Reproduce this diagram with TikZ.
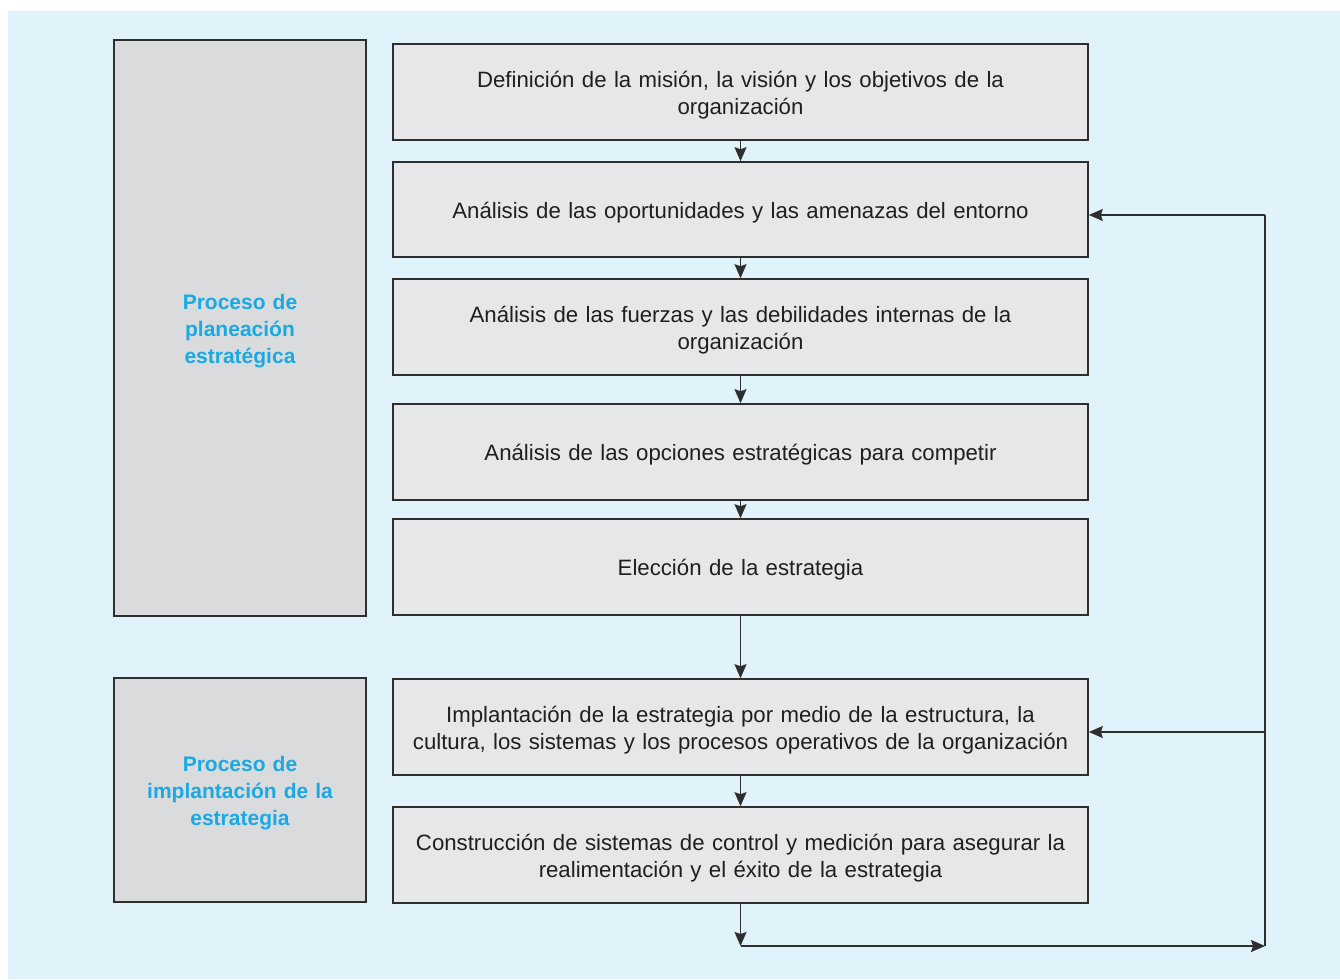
\documentclass[tikz,border=0pt]{standalone}
\usepackage{fontspec}
\setmainfont{Liberation Sans}
\usetikzlibrary{arrows.meta}
\definecolor{bgblue}{HTML}{E0F3FA}
\definecolor{leftgray}{HTML}{DADBDD}
\definecolor{boxgray}{HTML}{E6E7E8}
\definecolor{edge}{HTML}{2E2E2E}
\definecolor{labelblue}{HTML}{1AA9E3}
\tikzset{
  stepbox/.style={draw=edge, line width=1.6pt, fill=boxgray, minimum width=695pt, inner sep=0pt},
  steptext/.style={inner sep=0pt, yshift=-3pt, align=center, text width=685pt,
    font=\fontsize{22.2}{26.5}\selectfont, text=black!88},
  sidebox/.style={draw=edge, line width=1.6pt, fill=leftgray, minimum width=252pt, inner sep=0pt},
  sidetext/.style={inner sep=0pt, yshift=-3pt, align=center, text width=245pt,
    font=\fontsize{21}{27}\selectfont\bfseries, text=labelblue},
  conn/.style={draw=edge, line width=1.3pt, -{Stealth[length=14pt,width=12pt,inset=2pt]}},
  plain/.style={draw=edge, line width=1.3pt}
}
\begin{document}
\begin{tikzpicture}[x=1pt,y=-1pt]
\useasboundingbox (0,0) rectangle (1340,979);
\fill[white] (0,0) rectangle (1340,979);
\fill[bgblue] (8,11) rectangle (1340,979);

\node[sidebox, minimum height=576pt, label={[sidetext]center:{Proceso de\\planeación\\estratégica}}] (L1) at (240,328) {};
\node[sidebox, minimum height=224pt, label={[sidetext]center:{Proceso de\\implantación de la\\estrategia}}] (L2) at (240,790) {};

\node[stepbox, minimum height=96pt, label={[steptext]center:{Definición de la misión, la visión y los objetivos de la\\organización}}] (B1) at (740.5,92) {};
\node[stepbox, minimum height=95pt, label={[steptext]center:{Análisis de las oportunidades y las amenazas del entorno}}] (B2) at (740.5,209.5) {};
\node[stepbox, minimum height=96pt, label={[steptext]center:{Análisis de las fuerzas y las debilidades internas de la\\organización}}] (B3) at (740.5,327) {};
\node[stepbox, minimum height=96pt, label={[steptext]center:{Análisis de las opciones estratégicas para competir}}] (B4) at (740.5,452) {};
\node[stepbox, minimum height=96pt, label={[steptext]center:{Elección de la estrategia}}] (B5) at (740.5,567) {};
\node[stepbox, minimum height=96pt, label={[steptext]center:{Implantación de la estrategia por medio de la estructura, la\\cultura, los sistemas y los procesos operativos de la organización}}] (B6) at (740.5,727) {};
\node[stepbox, minimum height=96pt, label={[steptext]center:{Construcción de sistemas de control y medición para asegurar la\\realimentación y el éxito de la estrategia}}] (B7) at (740.5,855) {};

\coordinate (bl) at (740.5,946);
\coordinate (br) at (1265,946);
\coordinate (tr) at (1265,215);
\coordinate (mr) at (1265,732);

\draw[conn] (B1) -- (B2);
\draw[conn] (B2) -- (B3);
\draw[conn] (B3) -- (B4);
\draw[conn] (B4) -- (B5);
\draw[conn] (B5) -- (B6);
\draw[conn] (B6) -- (B7);
\draw[conn] (B7) -- (bl);
\draw[conn] (bl) -- (br);
\draw[plain] (br) -- (tr);
\draw[conn] (tr) -- (tr -| B2.east);
\draw[conn] (mr) -- (mr -| B6.east);
\end{tikzpicture}
\end{document}
